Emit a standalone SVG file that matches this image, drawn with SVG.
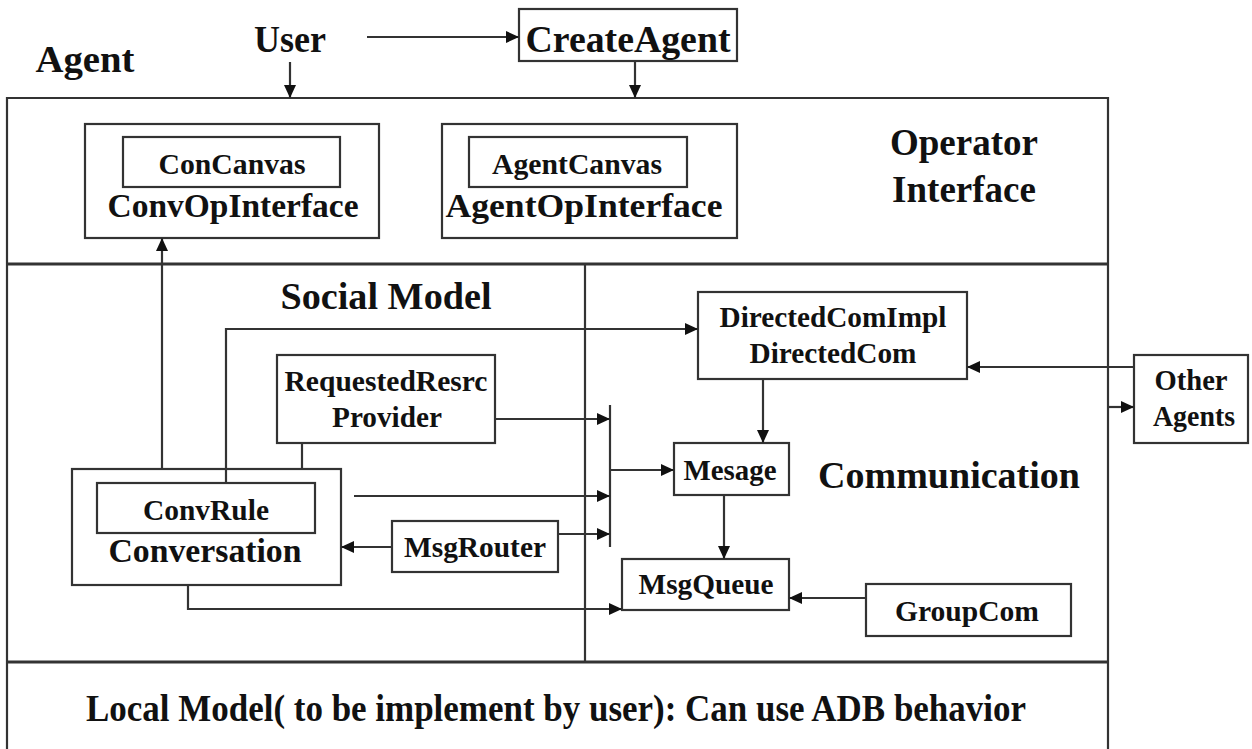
<svg xmlns="http://www.w3.org/2000/svg" width="1252" height="749" viewBox="0 0 1252 749">
  <style>
    text { font-family: "Liberation Serif", "Times New Roman", serif; font-weight: bold; fill: #111; text-anchor: middle; }
    .box { fill: #fff; stroke: #333; stroke-width: 2.2; }
    .frame { fill: none; stroke: #333; stroke-width: 2.2; }
    .divider { fill: none; stroke: #333; stroke-width: 3; }
    .wire { fill: none; stroke: #333; stroke-width: 2.2; }
    .arrow { fill: none; stroke: #333; stroke-width: 2.2; marker-end: url(#head); }
    .t37 { font-size: 37px; }
    .t33 { font-size: 33px; }
    .t29 { font-size: 29px; }
  </style>
  <defs>
    <marker id="head" markerUnits="userSpaceOnUse" markerWidth="14" markerHeight="12" refX="13" refY="6" orient="auto">
      <path d="M0,0 L13,6 L0,12 z" fill="#111"/>
    </marker>
  </defs>

  <rect width="1252" height="749" fill="#fff"/>

  <!-- Agent frame with its three layers -->
  <g id="agent-frame">
    <path class="frame" d="M7,760 L7,98 L1108,98 L1108,760"/>
    <line class="divider" x1="7" y1="264" x2="1108" y2="264"/>
    <line class="divider" x1="7" y1="662" x2="1108" y2="662"/>
    <line class="frame" x1="585" y1="264" x2="585" y2="662"/>
    <text class="t37" x="85" y="72" textLength="99" lengthAdjust="spacingAndGlyphs">Agent</text>
    <text class="t37" x="964" y="155">Operator</text>
    <text class="t37" x="964" y="202">Interface</text>
    <text class="t37" x="386" y="309" textLength="211" lengthAdjust="spacingAndGlyphs">Social Model</text>
    <text class="t37" x="949" y="488" textLength="262" lengthAdjust="spacingAndGlyphs">Communication</text>
    <text class="t37" x="556" y="721" textLength="940" lengthAdjust="spacingAndGlyphs">Local Model( to be implement by user): Can use ADB behavior</text>
  </g>

  <g id="user">
    <text class="t37" x="290" y="52" textLength="72" lengthAdjust="spacingAndGlyphs">User</text>
  </g>

  <g id="create-agent">
    <rect class="box" x="519" y="9" width="218" height="52"/>
    <text class="t37" x="628" y="52" textLength="205" lengthAdjust="spacingAndGlyphs">CreateAgent</text>
  </g>

  <g id="conv-op-interface">
    <rect class="box" x="85" y="124" width="294" height="114"/>
    <rect class="box" x="123" y="137" width="217" height="50"/>
    <text class="t29" x="232" y="174" textLength="147" lengthAdjust="spacingAndGlyphs">ConCanvas</text>
    <text class="t33" x="233" y="217" textLength="251" lengthAdjust="spacingAndGlyphs">ConvOpInterface</text>
  </g>

  <g id="agent-op-interface">
    <rect class="box" x="442" y="124" width="295" height="114"/>
    <rect class="box" x="469" y="137" width="218" height="50"/>
    <text class="t29" x="577" y="174" textLength="170" lengthAdjust="spacingAndGlyphs">AgentCanvas</text>
    <text class="t33" x="584" y="217" textLength="277" lengthAdjust="spacingAndGlyphs">AgentOpInterface</text>
  </g>

  <g id="requested-resrc-provider">
    <rect class="box" x="277" y="355" width="218" height="88"/>
    <text class="t29" x="386" y="391" textLength="203" lengthAdjust="spacingAndGlyphs">RequestedResrc</text>
    <text class="t29" x="387" y="427" textLength="110" lengthAdjust="spacingAndGlyphs">Provider</text>
  </g>

  <g id="conversation">
    <rect class="box" x="72" y="469" width="269" height="116"/>
    <rect class="box" x="97" y="483" width="218" height="50"/>
    <text class="t29" x="206" y="520" textLength="126" lengthAdjust="spacingAndGlyphs">ConvRule</text>
    <text class="t33" x="205" y="562" textLength="193" lengthAdjust="spacingAndGlyphs">Conversation</text>
  </g>

  <g id="msg-router">
    <rect class="box" x="392" y="521" width="166" height="51"/>
    <text class="t29" x="475" y="557" textLength="142" lengthAdjust="spacingAndGlyphs">MsgRouter</text>
  </g>

  <g id="directed-com">
    <rect class="box" x="698" y="292" width="269" height="87"/>
    <text class="t29" x="833" y="327" textLength="227" lengthAdjust="spacingAndGlyphs">DirectedComImpl</text>
    <text class="t29" x="833" y="363" textLength="167" lengthAdjust="spacingAndGlyphs">DirectedCom</text>
  </g>

  <g id="mesage">
    <rect class="box" x="674" y="443" width="115" height="52"/>
    <text class="t29" x="730" y="480" textLength="93" lengthAdjust="spacingAndGlyphs">Mesage</text>
  </g>

  <g id="msg-queue">
    <rect class="box" x="622" y="559" width="167" height="51"/>
    <text class="t29" x="706" y="594" textLength="135" lengthAdjust="spacingAndGlyphs">MsgQueue</text>
  </g>

  <g id="group-com">
    <rect class="box" x="866" y="584" width="205" height="52"/>
    <text class="t29" x="967" y="621" textLength="144" lengthAdjust="spacingAndGlyphs">GroupCom</text>
  </g>

  <g id="other-agents">
    <rect class="box" x="1134" y="355" width="114" height="88"/>
    <text class="t29" x="1191" y="390" textLength="73" lengthAdjust="spacingAndGlyphs">Other</text>
    <text class="t29" x="1194" y="426" textLength="82" lengthAdjust="spacingAndGlyphs">Agents</text>
  </g>

  <g id="connectors">
    <!-- top inputs -->
    <line class="arrow" x1="367" y1="37" x2="519" y2="37"/>
    <line class="arrow" x1="290" y1="62" x2="290" y2="98"/>
    <line class="arrow" x1="635" y1="61" x2="635" y2="98"/>
    <!-- conversation to its operator interface -->
    <line class="arrow" x1="162" y1="469" x2="162" y2="238"/>
    <!-- conv rule to directed com -->
    <polyline class="arrow" points="226,483 226,329 698,329"/>
    <!-- provider link -->
    <line class="wire" x1="302" y1="443" x2="302" y2="469"/>
    <!-- message bus -->
    <line class="wire" x1="610" y1="405" x2="610" y2="547"/>
    <line class="arrow" x1="495" y1="419" x2="610" y2="419"/>
    <line class="arrow" x1="354" y1="496" x2="610" y2="496"/>
    <line class="arrow" x1="558" y1="534" x2="610" y2="534"/>
    <line class="arrow" x1="610" y1="470" x2="674" y2="470"/>
    <!-- router back to conversation -->
    <line class="arrow" x1="392" y1="547" x2="341" y2="547"/>
    <!-- conversation to queue -->
    <polyline class="arrow" points="188,585 188,609 622,609"/>
    <!-- communication flow -->
    <line class="arrow" x1="763" y1="379" x2="763" y2="443"/>
    <line class="arrow" x1="724" y1="495" x2="724" y2="559"/>
    <line class="arrow" x1="866" y1="598" x2="789" y2="598"/>
    <!-- other agents -->
    <line class="arrow" x1="1134" y1="367" x2="967" y2="367"/>
    <line class="arrow" x1="1108" y1="407" x2="1134" y2="407"/>
  </g>
</svg>
